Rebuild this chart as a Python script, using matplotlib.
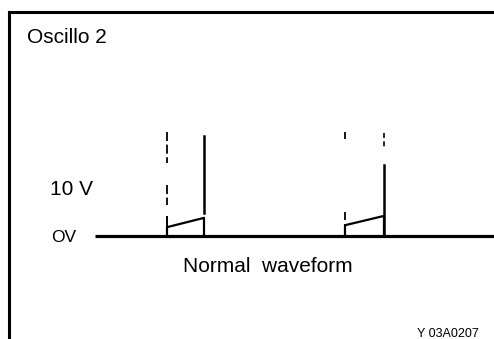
import matplotlib.pyplot as plt

# Oscilloscope trace data (time in screen units, level in volts)
baseline_t = [95, 494]
baseline_v = [0, 0]

pulse_start = [167, 345]
pulse_end = [204, 384]
ramp_v0 = [1.8, 2.2]
ramp_v1 = [3.7, 4.1]

# left (dashed) edge pieces of each pulse, as (v_from, v_to)
left_dash = [[(21.2, 15.0), (10.5, 6.4)], [(21.2, 19.8), (4.9, 3.3)]]
left_solid_top = [3.9, 2.2]
# right edge pieces
right_solid = [(20.4, 4.7), (14.5, 0.2)]
right_dash = [None, (21.0, 18.2)]

W, H = 494, 339
PX_PER_V = 4.9
fig = plt.figure(figsize=(W / 100, H / 100), dpi=100)
ax = fig.add_axes([9 / W, 0, 1 - 9 / W, 1 - 11.5 / H])
ax.set_xlim(9, W)
ax.set_ylim((236 - H) / PX_PER_V, (236 - 11.5) / PX_PER_V)
ax.set_xticks([])
ax.set_yticks([])
for s in ['right', 'bottom']:
    ax.spines[s].set_visible(False)
for s in ['left', 'top']:
    ax.spines[s].set_linewidth(2.2)

ax.plot(baseline_t, baseline_v, color='black', lw=2.3, solid_capstyle='butt')

for i in range(2):
    t0, t1 = pulse_start[i], pulse_end[i]
    # ramp
    ax.plot([t0, t0, t1, t1], [0, ramp_v0[i], ramp_v1[i], 0], color='black', lw=1.6)
    ax.plot([t0, t0], [0, left_solid_top[i]], color='black', lw=1.4)
    for a, b in left_dash[i]:
        ax.plot([t0, t0], [a, b], color='black', lw=1.3, linestyle=(0, (5, 2)))
    a, b = right_solid[i]
    ax.plot([t1, t1], [a, b], color='black', lw=1.8)
    if right_dash[i]:
        a, b = right_dash[i]
        ax.plot([t1, t1], [a, b], color='black', lw=1.2, linestyle=(0, (3, 2)))

font = 'Liberation Sans'
def px_text(x, y, s, **kw):
    fig.text(x / W, 1 - y / H, s, family=font, va='baseline', **kw)

px_text(27, 43, 'Oscillo 2', fontsize=15)
px_text(50, 195, '10 V', fontsize=15, fontweight='medium')
px_text(51, 242, 'OV', fontsize=12.5)
px_text(268, 272, 'Normal  waveform', fontsize=15, ha='center')
px_text(417, 337, 'Y 03A0207', fontsize=9)

fig.savefig('out.png', dpi=100)
